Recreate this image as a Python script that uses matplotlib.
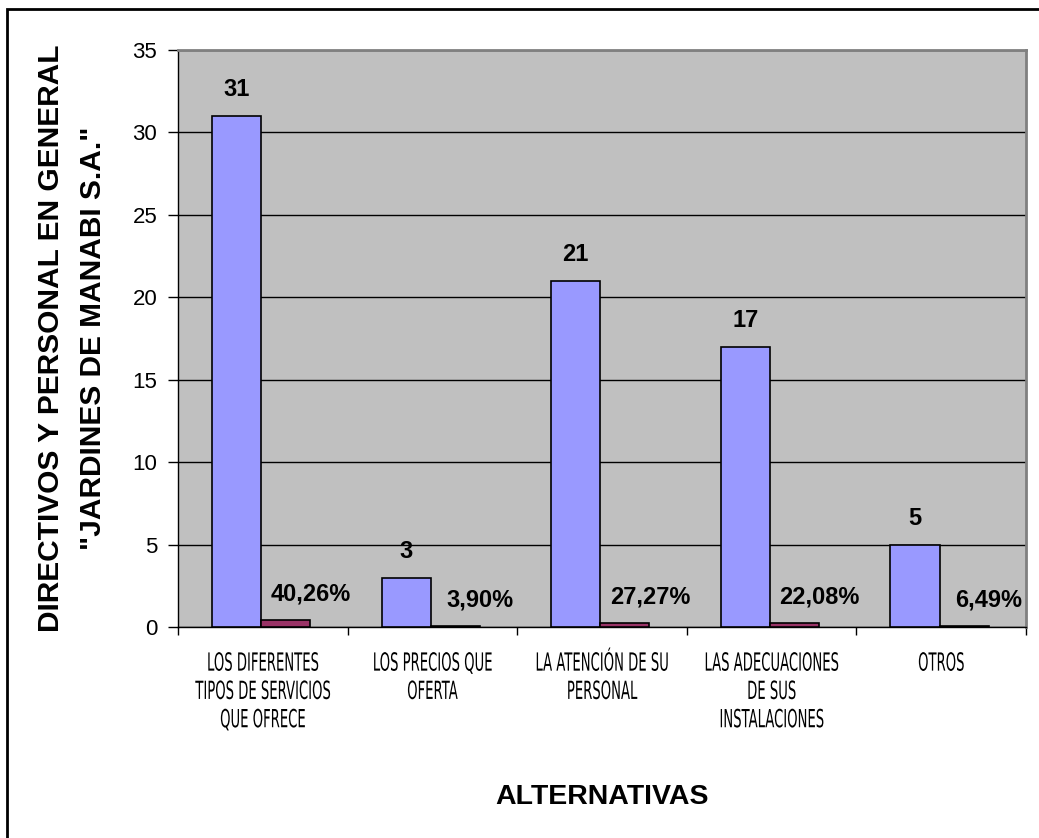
import matplotlib.pyplot as plt
from matplotlib.patches import Rectangle
from matplotlib.patheffects import AbstractPathEffect
from matplotlib.transforms import Affine2D

categories = [
    "LOS DIFERENTES\nTIPOS DE SERVICIOS\nQUE OFRECE",
    "LOS PRECIOS QUE\nOFERTA",
    "LA ATENCIÓN DE SU\nPERSONAL",
    "LAS ADECUACIONES\nDE SUS\nINSTALACIONES",
    "OTROS",
]
frecuencia = [31, 3, 21, 17, 5]
porcentaje = [40.26, 3.90, 27.27, 22.08, 6.49]
yticks = [0, 5, 10, 15, 20, 25, 30, 35]

AZUL = "#9999FF"
GRANATE = "#993366"
FONDO = "#C0C0C0"

plt.rcParams["font.family"] = ["Liberation Sans", "DejaVu Sans"]


class Estrecho(AbstractPathEffect):
    """Estira el texto en vertical para una letra alta y estrecha."""

    def __init__(self, sx=0.95, sy=1.8):
        super().__init__()
        self.sx, self.sy = sx, sy

    def draw_path(self, renderer, gc, tpath, affine, rgbFace=None):
        ext = tpath.get_extents()
        cx = (ext.x0 + ext.x1) / 2
        t = Affine2D().translate(-cx, 0).scale(self.sx, self.sy).translate(cx, 0) + affine
        renderer.draw_path(gc, tpath, t, rgbFace)


fig = plt.figure(figsize=(10.39, 8.38), dpi=100)
ax = fig.add_axes([178 / 1039, 1 - 627 / 838, (1026 - 178) / 1039, (627 - 50) / 838])

# marco exterior del gráfico
fig.patches.append(Rectangle((7 / 1039, -0.05), 1.1, 1 - 9 / 838 + 0.05,
                             transform=fig.transFigure, fill=False,
                             edgecolor="black", linewidth=2, clip_on=False))

ax.set_facecolor(FONDO)
x = list(range(len(categories)))
w = 0.29
xa = [i - 0.155 for i in x]
xb = [i + 0.135 for i in x]
ax.bar(xa, frecuencia, width=w, color=AZUL, edgecolor="black", linewidth=1.2, zorder=3)
ax.bar(xb, [p / 100 for p in porcentaje], width=w, color=GRANATE,
       edgecolor="black", linewidth=1.2, zorder=3)

for xi, v in zip(xa, frecuencia):
    ax.annotate(str(v), (xi, v), xytext=(0, 14), textcoords="offset points",
                ha="center", va="baseline", fontsize=17, fontweight="bold")
for xi, p in zip(xb, porcentaje):
    ax.annotate(f"{p:.2f}%".replace(".", ","), (xi, p / 100), xytext=(18, 14),
                textcoords="offset points", ha="center", va="baseline",
                fontsize=17, fontweight="bold")

ax.set_xlim(-0.5, len(categories) - 0.5)
ax.set_ylim(0, 35)
ax.set_yticks(yticks)
ax.yaxis.grid(True, color="black", linewidth=1, zorder=0)
ax.set_axisbelow(True)
ax.tick_params(axis="y", labelsize=16, length=7, width=1, pad=8)

ax.set_xticks([i - 0.5 for i in range(len(categories) + 1)])
ax.set_xticklabels([])
ax.set_xticks(x, minor=True)
etiquetas = ax.set_xticklabels(categories, minor=True, fontfamily="DejaVu Sans",
                               fontsize=10, linespacing=2.3, va="top")
for t in etiquetas:
    t.set_path_effects([Estrecho()])
ax.tick_params(axis="x", which="major", length=6, width=1)
ax.tick_params(axis="x", which="minor", length=0, pad=23.5)

for s in ("top", "right"):
    ax.spines[s].set_color("#808080")
    ax.spines[s].set_linewidth(2)
ax.spines["left"].set_linewidth(1)
ax.spines["bottom"].set_linewidth(1)

ax.set_xlabel("ALTERNATIVAS", fontsize=20.5, fontweight="bold", labelpad=39)
ax.set_ylabel('DIRECTIVOS Y PERSONAL EN GENERAL\n"JARDINES DE MANABI S.A."',
              fontsize=21.5, fontweight="bold", linespacing=1.65, labelpad=18)

fig.savefig("out.png", dpi=100)
